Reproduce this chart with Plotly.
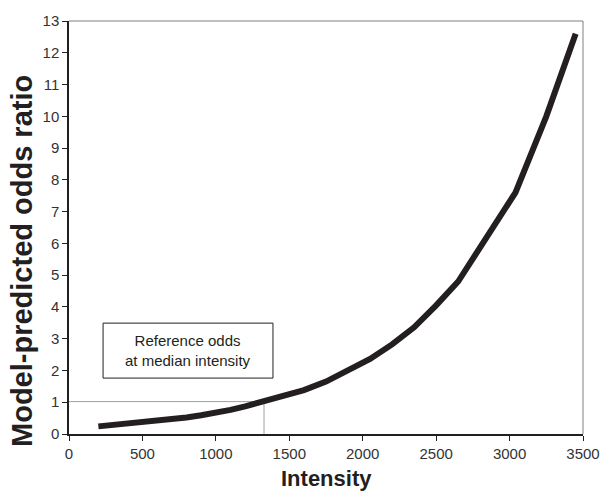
import plotly.graph_objects as go

# Data
intensity = [200, 300, 400, 500, 600, 700, 800, 900, 1000, 1100, 1200, 1330, 1450, 1600,
             1750, 1900, 2050, 2200, 2350, 2500, 2650, 3040, 3250, 3450]
odds_ratio = [0.24, 0.28, 0.32, 0.37, 0.41, 0.46, 0.52, 0.59, 0.66, 0.76, 0.87, 1.04, 1.16, 1.38,
              1.65, 1.98, 2.36, 2.82, 3.36, 4.05, 4.8, 7.6, 10.0, 12.6]

median_intensity = 1328
reference_odds = 1.02

x_ticks = [0, 500, 1000, 1500, 2000, 2500, 3000, 3500]
y_ticks = list(range(0, 14))

box_x = [232, 1389]
box_y = [1.76, 3.49]
box_text = "Reference odds<br>at median intensity"

FONT = "Liberation Sans, Arial, sans-serif"

fig = go.Figure()

# reference lines
fig.add_trace(go.Scatter(x=[0, median_intensity, median_intensity], y=[reference_odds, reference_odds, 0],
                         mode="lines", line=dict(color="#a0a0a0", width=1), hoverinfo="skip", showlegend=False))

fig.add_trace(go.Scatter(x=intensity, y=odds_ratio, mode="lines",
                         line=dict(color="#231f20", width=6), showlegend=False))

fig.add_shape(type="rect", x0=box_x[0], x1=box_x[1], y0=box_y[0], y1=box_y[1],
              xref="x", yref="y", line=dict(color="#231f20", width=1), fillcolor="white")
fig.add_annotation(x=(box_x[0] + box_x[1]) / 2, y=(box_y[0] + box_y[1]) / 2, text=box_text,
                   showarrow=False, font=dict(family=FONT, size=15, color="#231f20"))

# axis titles
fig.add_annotation(xref="paper", yref="paper", x=0.5, y=-0.108, text="<b>Intensity</b>",
                   showarrow=False, xanchor="center", yanchor="middle",
                   font=dict(family=FONT, size=22, color="#231f20"))
fig.add_annotation(xref="paper", yref="paper", x=-0.0914, y=0.419, text="<b>Model-predicted odds ratio</b>",
                   showarrow=False, xanchor="center", yanchor="middle", textangle=-90,
                   font=dict(family=FONT, size=29, color="#231f20"))

# top & right frame (gray)
fig.add_shape(type="line", xref="paper", yref="paper", x0=0, x1=1, y0=1, y1=1,
              line=dict(color="#808080", width=1))
fig.add_shape(type="line", xref="paper", yref="paper", x0=1, x1=1, y0=0, y1=1,
              line=dict(color="#808080", width=1))

fig.update_layout(
    width=600, height=491,
    margin=dict(l=69, r=17, t=21, b=57),
    paper_bgcolor="white", plot_bgcolor="white",
    font=dict(family=FONT, color="#231f20"),
)
fig.update_xaxes(range=[0, 3500], tickvals=x_ticks, showgrid=False, zeroline=False,
                 showline=True, linecolor="#231f20", linewidth=1.5, automargin=False,
                 ticks="outside", ticklen=5, tickcolor="#231f20",
                 tickfont=dict(size=15, color="#333333"))
fig.update_yaxes(range=[0, 13], tickvals=y_ticks, showgrid=False, zeroline=False,
                 showline=True, linecolor="#231f20", linewidth=1.5, automargin=False,
                 ticks="outside", ticklen=5, tickcolor="#231f20",
                 tickfont=dict(size=15, color="#333333"))

fig.write_html("out.html", config={"displayModeBar": False},
               post_script="document.body.style.margin='0';document.body.style.overflow='hidden';")
